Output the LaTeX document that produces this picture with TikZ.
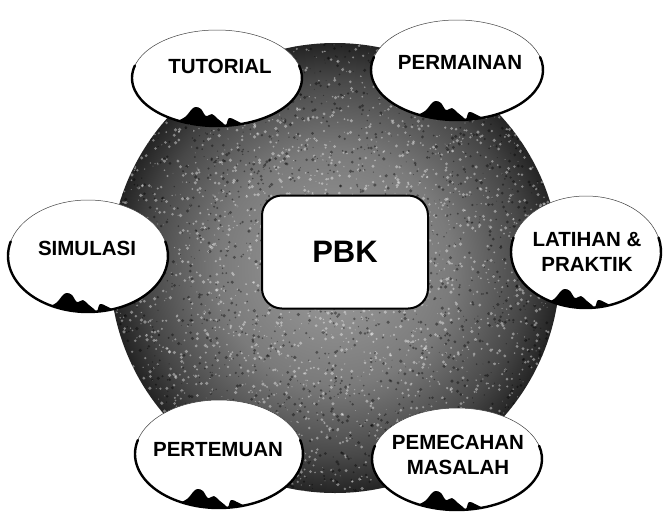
\documentclass[tikz,border=0pt]{standalone}
\usepackage{fontspec}
\setmainfont{Liberation Sans}
\usetikzlibrary{shapes.geometric}
\usepackage{xcolor}

\pgfdeclareradialshading{discshade}{\pgfpoint{0bp}{0bp}}{color(0bp)=(black!38); color(13bp)=(black!52); color(21bp)=(black!72); color(25bp)=(black!86); color(50bp)=(black!86)}

\begin{document}
\begin{tikzpicture}[x=1pt, y=1pt,
    bubble/.style={
        ellipse,
        draw=black!75,
        line width=0.5pt,
        fill=white,
        inner sep=0pt,
        outer sep=0pt
    },
    caption/.style={
        align=center,
        inner sep=0pt,
        font=\bfseries\fontsize{20.5}{25}\selectfont
    },
    rim/.style={line width=2.4pt, line cap=round},
    hub/.style={
        rectangle,
        rounded corners=20pt,
        draw,
        line width=2pt,
        fill=white,
        minimum width=166pt,
        minimum height=113pt,
        font=\bfseries\fontsize{31}{36}\selectfont
    }
]
    \useasboundingbox (0,0) rectangle (663,-512);
    % grainy disc behind everything
    \shade[shading=discshade] (335,-268) circle (225);
    \begin{scope}
        \clip (335,-268) circle (225);
        \pgfmathsetseed{7}
        \foreach \i in {1,...,3200}
        {
            \fill[white, opacity=0.4] (335+rand*225, -268+rand*225) circle (0.4+1.4*rnd);
        }
        \foreach \i in {1,...,2200}
        {
            \fill[black, opacity=0.4] (335+rand*225, -268+rand*225) circle (0.4+1.4*rnd);
        }
    \end{scope}

    \node (pbk) [hub] at (345,-252) {PBK};

    \node (tutorial) [bubble, minimum width=170pt, minimum height=96pt] at (217,-78) {};
    \node (permainan) [bubble, minimum width=172pt, minimum height=100pt] at (457,-70) {};
    \node (simulasi) [bubble, minimum width=160pt, minimum height=112pt] at (88,-256) {};
    \node (latihan_praktik) [bubble, minimum width=150pt, minimum height=112pt] at (586,-252) {};
    \node (pertemuan) [bubble, minimum width=168pt, minimum height=108pt] at (219,-454) {};
    \node (pemecahan_masalah) [bubble, minimum width=170pt, minimum height=102pt] at (457,-459) {};

    % heavy lower rim and the dark lump at the bottom
    \foreach \name/\rx/\ry in {tutorial/85/48, permainan/86/50, simulasi/80/56,
        latihan_praktik/75/56, pertemuan/84/54, pemecahan_masalah/85/51}
    {
        \draw[rim] ([shift={({\rx*cos(15)},{\ry*sin(15)})}]\name.center)
            arc[start angle=15, end angle=-195, x radius=\rx, y radius=\ry];
        \begin{scope}
            \clip (\name.center) ellipse [x radius=\rx, y radius=\ry];
            \fill[shift={(\name.south)}] plot[smooth, tension=0.6] coordinates
                {(-42,4) (-32,9) (-25,17) (-21,19) (-16,17) (-11,10) (-5,12) (1,7) (6,3) (9,1) (12,8) (18,6) (26,2)}
                -- (26,-4) -- (-42,-4) -- cycle;
        \end{scope}
    }

    \node (tutorial_label) [caption] at (220,-66) {TUTORIAL};
    \node (permainan_label) [caption] at (460,-62) {PERMAINAN};
    \node (simulasi_label) [caption] at (87,-248) {SIMULASI};
    \node (latihan_praktik_label) [caption] at (587,-252) {LATIHAN \&\\PRAKTIK};
    \node (pertemuan_label) [caption] at (218,-450) {PERTEMUAN};
    \node (pemecahan_masalah_label) [caption] at (458,-455) {PEMECAHAN\\MASALAH};
\end{tikzpicture}
\end{document}
